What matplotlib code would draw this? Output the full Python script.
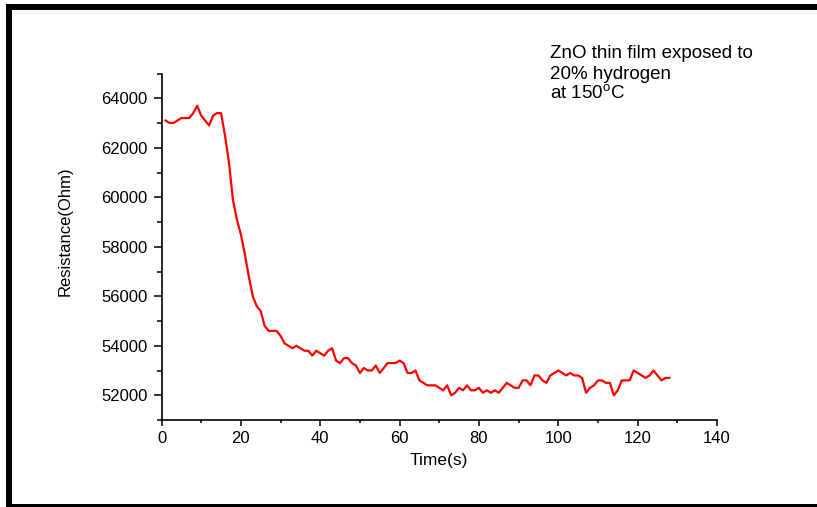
import numpy as np
import matplotlib
matplotlib.use('Agg')
import matplotlib.pyplot as plt
from matplotlib.patches import Rectangle
from matplotlib.ticker import MultipleLocator

plt.rcParams['font.family'] = ['Liberation Sans', 'DejaVu Sans']
plt.rcParams['mathtext.fontset'] = 'custom'
plt.rcParams['mathtext.rm'] = 'Liberation Sans'

# resistance of the ZnO film, one reading per second
time_s = np.arange(1, 129)
resistance = [
    63100, 63000, 63000, 63100, 63200, 63200, 63200, 63400, 63700, 63300,
    63100, 62900, 63300, 63400, 63400, 62500, 61400, 59900, 59100, 58500,
    57700, 56800, 56000, 55600, 55400, 54800, 54600, 54600, 54600, 54400,
    54100, 54000, 53900, 54000, 53900, 53800, 53800, 53600, 53800, 53700,
    53600, 53800, 53900, 53400, 53300, 53500, 53500, 53300, 53200, 52900,
    53100, 53000, 53000, 53200, 52900, 53100, 53300, 53300, 53300, 53400,
    53300, 52900, 52900, 53000, 52600, 52500, 52400, 52400, 52400, 52300,
    52200, 52400, 52000, 52100, 52300, 52200, 52400, 52200, 52200, 52300,
    52100, 52200, 52100, 52200, 52100, 52300, 52500, 52400, 52300, 52300,
    52600, 52600, 52400, 52800, 52800, 52600, 52500, 52800, 52900, 53000,
    52900, 52800, 52900, 52800, 52800, 52700, 52100, 52300, 52400, 52600,
    52600, 52500, 52500, 52000, 52200, 52600, 52600, 52600, 53000, 52900,
    52800, 52700, 52800, 53000, 52800, 52600, 52700, 52700,
]

x_ticks = [0, 20, 40, 60, 80, 100, 120, 140]
y_ticks = [52000, 54000, 56000, 58000, 60000, 62000, 64000]
note_lines = ['ZnO thin film exposed to', '20% hydrogen', r'at 150$^{\rm o}$C']

W, H = 817, 507
fig = plt.figure(figsize=(W / 100, H / 100), dpi=100)
ax = fig.add_axes([161.5 / W, 1 - 420 / H, (717 - 161.5) / W, (420 - 73.5) / H])

ax.plot(time_s, resistance, color='#ff0000', lw=1.6)

ax.set_xlim(0, 140)
ax.set_ylim(51000, 65000)
ax.set_xticks(x_ticks)
ax.set_yticks(y_ticks)
ax.xaxis.set_minor_locator(MultipleLocator(10))
ax.yaxis.set_minor_locator(MultipleLocator(1000))
ax.set_xticklabels([str(v) for v in x_ticks])
ax.set_yticklabels([str(v) for v in y_ticks])

for side in ['top', 'right']:
    ax.spines[side].set_visible(False)
for side in ['left', 'bottom']:
    ax.spines[side].set_linewidth(1.2)

ax.tick_params(axis='y', which='major', length=6, width=1.1, pad=4, labelsize=12)
ax.tick_params(axis='y', which='minor', length=3.6, width=1.1)
ax.tick_params(axis='x', which='major', length=4, width=1.1, pad=4, labelsize=12)
ax.tick_params(axis='x', which='minor', length=2.4, width=1.1)

ax.set_xlabel('Time(s)', fontsize=12.5, labelpad=5)
ax.set_ylabel('Resistance(Ohm)', fontsize=12)
ax.yaxis.set_label_coords(-0.16, 0.545)

# note in the upper right corner
for i, line in enumerate(note_lines):
    fig.text(550 / W, 1 - (58 + i * 20.7) / H, line, fontsize=13.5,
             ha='left', va='baseline')

# heavy black frame around the figure
def px_rect(x0, y0, x1, y1):
    return Rectangle((x0 / W, 1 - y1 / H), (x1 - x0) / W, (y1 - y0) / H,
                     transform=fig.transFigure, color='black', lw=0)

fig.patches.append(px_rect(6, 4, 12, 507))
fig.patches.append(px_rect(6, 4, 817, 10))
fig.patches.append(px_rect(6, 504, 817, 507))

fig.savefig('out.png', dpi=100)
